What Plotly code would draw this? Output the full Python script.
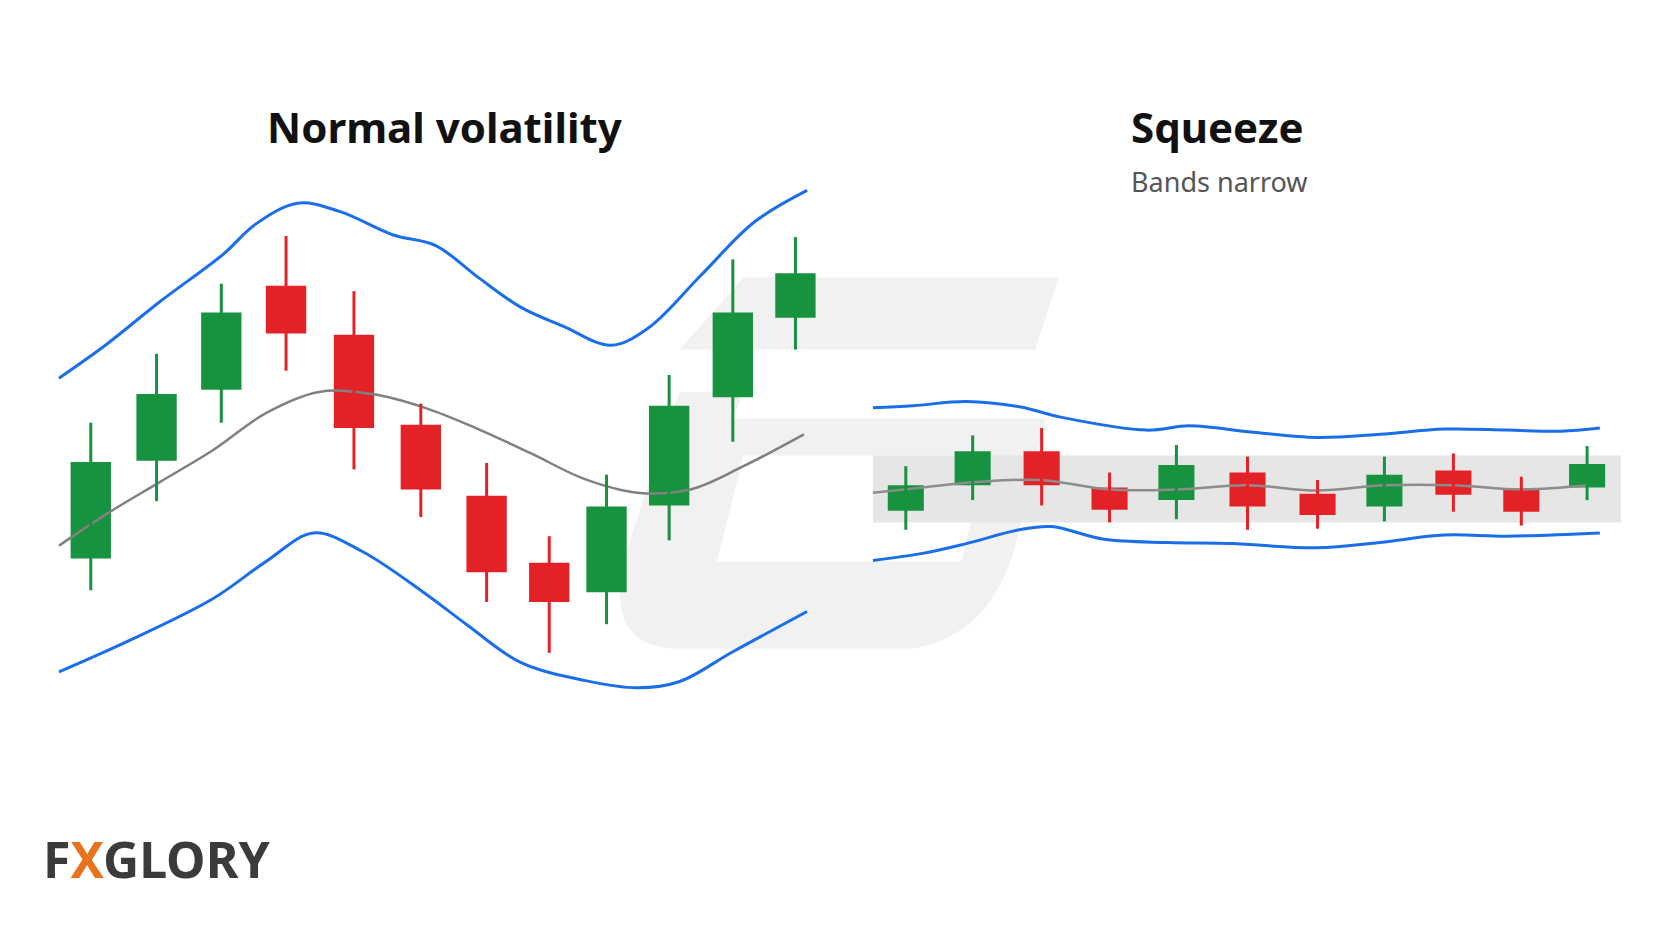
import plotly.graph_objects as go

# left panel: candles in picture units (y grows downward)
l_x = [85, 147, 208, 269, 333, 396, 458, 517, 571, 630, 690, 749]
l_open = [527, 435, 368, 270, 316, 401, 468, 531, 559, 477, 375, 300]
l_close = [436, 372, 295, 315, 404, 462, 540, 568, 478, 383, 295, 258]
l_high = [399, 334, 268, 223, 275, 381, 437, 506, 448, 354, 245, 224]
l_low = [557, 473, 399, 350, 443, 488, 568, 616, 589, 510, 417, 330]

l_up_x = [55, 100, 150, 210, 240, 280, 320, 370, 410, 450, 490, 530, 575, 610, 660, 710, 760]
l_up_y = [357, 325, 285, 240, 212, 192, 200, 222, 232, 262, 290, 308, 326, 310, 260, 210, 180]
l_mid_x = [55, 100, 150, 200, 250, 300, 350, 400, 450, 500, 550, 600, 650, 700, 757]
l_mid_y = [515, 485, 455, 425, 390, 370, 372, 385, 405, 428, 452, 465, 462, 440, 410]
l_lo_x = [55, 120, 200, 250, 295, 340, 400, 440, 490, 550, 600, 640, 690, 760]
l_lo_y = [634, 605, 565, 530, 503, 520, 560, 590, 625, 642, 649, 643, 615, 577]

# right panel: squeeze
r_x = [853, 916, 981, 1045, 1108, 1175, 1241, 1304, 1369, 1433, 1495]
r_open = [482, 458, 426, 460, 472, 446, 466, 478, 444, 461, 460]
r_close = [458, 426, 458, 481, 439, 478, 486, 448, 467, 483, 438]
r_high = [440, 411, 404, 446, 420, 431, 453, 431, 428, 450, 421]
r_low = [500, 472, 477, 493, 490, 500, 499, 492, 483, 496, 472]

r_up_x = [822, 860, 910, 960, 1000, 1080, 1120, 1180, 1240, 1300, 1360, 1420, 1470, 1507]
r_up_y = [385, 383, 379, 384, 394, 406, 402, 408, 413, 410, 405, 406, 407, 404]
r_mid_x = [822, 870, 920, 980, 1045, 1108, 1175, 1241, 1304, 1369, 1433, 1495]
r_mid_y = [465, 460, 455, 453, 462, 462, 458, 463, 458, 458, 462, 458]
r_lo_x = [822, 870, 910, 960, 990, 1040, 1100, 1160, 1240, 1300, 1360, 1420, 1507]
r_lo_y = [529, 522, 513, 500, 497, 509, 512, 513, 517, 512, 505, 506, 503]

GREEN = "#17923f"
RED = "#e32228"
BLUE = "#1a6fe8"

fig = go.Figure()


def add_candles(xs, op, cl, hi, lo, width):
    cols = [GREEN if c < o else RED for o, c in zip(op, cl)]
    for x, h, l, c in zip(xs, hi, lo, cols):
        fig.add_trace(go.Scatter(x=[x, x], y=[h, l], mode="lines",
                                 line=dict(color=c, width=3), hoverinfo="skip"))
    fig.add_trace(go.Bar(x=xs, y=[abs(o - c) for o, c in zip(op, cl)],
                         base=[min(o, c) for o, c in zip(op, cl)],
                         width=width, marker=dict(color=cols, line_width=0)))


def add_band(xs, ys, color, w):
    fig.add_trace(go.Scatter(x=xs, y=ys, mode="lines", hoverinfo="skip",
                             line=dict(color=color, width=w, shape="spline", smoothing=1)))


# watermark shapes
fig.add_shape(type="path", path="M 700 262 L 997 262 L 975 330 L 640 330 Z",
              fillcolor="#f1f1f1", line_width=0, layer="below")
fig.add_shape(type="path",
              path="M 700 370 L 690 395 L 985 395 L 955 520 Q 930 600 860 612 L 640 612 Q 565 612 590 520 L 630 395 L 640 370 Z"
                   " M 700 430 L 675 530 L 905 530 L 930 430 Z",
              fillcolor="#f1f1f1", line_width=0, layer="below")
fig.add_shape(type="rect", x0=822, x1=1527, y0=430, y1=493,
              fillcolor="#e6e6e6", line_width=0, layer="below")

add_band(l_mid_x, l_mid_y, "#808080", 2.5)
add_band(r_mid_x, r_mid_y, "#8c8c8c", 2.5)
add_candles(l_x, l_open, l_close, l_high, l_low, 38)
add_candles(r_x, r_open, r_close, r_high, r_low, 34)
for xs, ys in [(l_up_x, l_up_y), (l_lo_x, l_lo_y), (r_up_x, r_up_y), (r_lo_x, r_lo_y)]:
    add_band(xs, ys, BLUE, 3)

fig.add_annotation(x=418, y=120, text="<b>Normal volatility</b>", showarrow=False,
                   font=dict(size=42, color="#111111", family="Noto Sans"))
fig.add_annotation(x=1063, y=120, text="<b>Squeeze</b>", showarrow=False, xanchor="left",
                   font=dict(size=42, color="#111111", family="Noto Sans"))
fig.add_annotation(x=1063, y=172, text="Bands narrow", showarrow=False, xanchor="left",
                   font=dict(size=27, color="#555555", family="Noto Sans"))
fig.add_annotation(x=38, y=810, text="<b>F<span style='color:#e8731c'>X</span>GLORY</b>",
                   showarrow=False, xanchor="left",
                   font=dict(size=50, color="#3b3b3b", family="Noto Sans"))

fig.update_layout(width=1664, height=928, margin=dict(l=0, r=0, t=0, b=0),
                  plot_bgcolor="white", paper_bgcolor="white", showlegend=False,
                  barmode="overlay")
fig.update_xaxes(range=[7, 1575], visible=False, fixedrange=True)
fig.update_yaxes(range=[883, 8], visible=False, fixedrange=True)
fig.write_html("out.html")
